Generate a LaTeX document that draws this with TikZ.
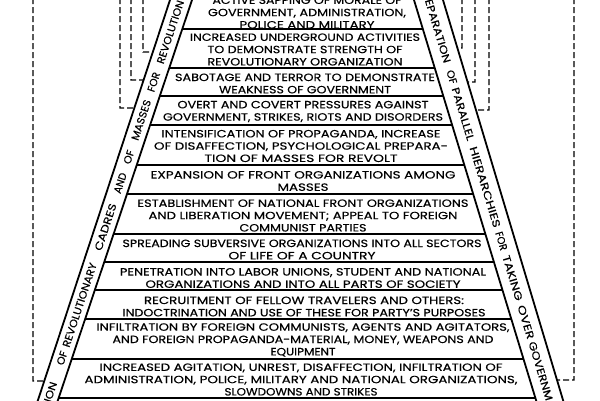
\documentclass[tikz,border=0pt]{standalone}
\usepackage{fontspec}
\usepackage{graphicx}
\setmainfont{Poppins}[FakeBold=0.4]
\usetikzlibrary{calc}
\newsavebox\fitbox
\newcommand\fitw[2]{\sbox\fitbox{#2}\pgfmathsetmacro\fitsc{#1/(\the\wd\fitbox)}\scalebox{\fitsc}[1]{\usebox\fitbox}}
\begin{document}
\begin{tikzpicture}[x=1pt,y=-1pt,
  bandline/.style={line width=1.8pt},
  sepline/.style={line width=1.2pt},
  dshline/.style={line width=1.3pt,dash pattern=on 6pt off 3pt},
  rowtxt/.style={font=\fontsize{10.5}{12.3}\selectfont,align=center,inner sep=0pt},
  lwd/.style={font=\fontsize{10.5}{12}\selectfont,inner sep=0pt,rotate=71.7},
  rwd/.style={font=\fontsize{10.5}{12}\selectfont,inner sep=0pt,rotate=-73.2}]
\useasboundingbox (0,0) rectangle (600,400);
\clip (0,0) rectangle (600,400);
\fill[white] (0,0) rectangle (600,400);
% band edges
\coordinate (LOt) at (170,0);  \coordinate (LOb) at (38,400);
\coordinate (LIt) at (192,0);  \coordinate (LIb) at (58,400);
\coordinate (RIt) at (414,0);  \coordinate (RIb) at (536,400);
\coordinate (ROt) at (443,0);  \coordinate (ROb) at (563,400);
\draw[bandline] ($(LOt)!-0.05!(LOb)$) -- ($(LOt)!1.05!(LOb)$);
\draw[bandline] ($(LIt)!-0.05!(LIb)$) -- ($(LIt)!1.05!(LIb)$);
\draw[bandline] ($(RIt)!-0.05!(RIb)$) -- ($(RIt)!1.05!(RIb)$);
\draw[bandline] ($(ROt)!-0.05!(ROb)$) -- ($(ROt)!1.05!(ROb)$);
% separators
\foreach \yy in {29,68,96,125,165,194,234,262,290,319,359,398}
  \draw[sepline] ($(LIt)!{\yy/400}!(LIb)$) -- ($(RIt)!{\yy/400}!(RIb)$);
% rows
\node[rowtxt] (r1) at (307,12.5) {\fitw{189}{ACTIVE SAPPING OF MORALE OF}\\\fitw{198}{GOVERNMENT, ADMINISTRATION,}\\\fitw{135}{POLICE AND MILITARY}};
\node[rowtxt] (r2) at (305,49.5) {\fitw{230}{INCREASED UNDERGROUND ACTIVITIES}\\\fitw{195}{TO DEMONSTRATE STRENGTH OF}\\\fitw{195}{REVOLUTIONARY ORGANIZATION}};
\node[rowtxt] (r3) at (305,83.5) {\fitw{260}{SABOTAGE AND TERROR TO DEMONSTRATE}\\\fitw{172}{WEAKNESS OF GOVERNMENT}};
\node[rowtxt] (r4) at (303,111.5) {\fitw{251}{OVERT AND COVERT PRESSURES AGAINST}\\\fitw{280}{GOVERNMENT, STRIKES, RIOTS AND DISORDERS}};
\node[rowtxt] (r5) at (301,146) {\fitw{279}{INTENSIFICATION OF PROPAGANDA, INCREASE}\\\fitw{294}{OF DISAFFECTION, PSYCHOLOGICAL PREPARA-}\\\fitw{193}{TION OF MASSES FOR REVOLT}};
\node[rowtxt] (r6) at (303,181) {\fitw{305}{EXPANSION OF FRONT ORGANIZATIONS AMONG}\\\fitw{51}{MASSES}};
\node[rowtxt] (r7) at (303,215.5) {\fitw{331}{ESTABLISHMENT OF NATIONAL FRONT ORGANIZATIONS}\\\fitw{309}{AND LIBERATION MOVEMENT; APPEAL TO FOREIGN}\\\fitw{127}{COMMUNIST PARTIES}};
\node[rowtxt] (r8) at (302,249.5) {\fitw{359}{SPREADING SUBVERSIVE ORGANIZATIONS INTO ALL SECTORS}\\\fitw{147}{OF LIFE OF A COUNTRY}};
\node[rowtxt] (r9) at (303,278) {\fitw{366}{PENETRATION INTO LABOR UNIONS, STUDENT AND NATIONAL}\\\fitw{315}{ORGANIZATIONS AND INTO ALL PARTS OF SOCIETY}};
\node[rowtxt] (r10) at (304,306.5) {\fitw{320}{RECRUITMENT OF FELLOW TRAVELERS AND OTHERS:}\\\fitw{363}{INDOCTRINATION AND USE OF THESE FOR PARTY'S PURPOSES}};
\node[rowtxt] (r11) at (303,340) {\fitw{413}{INFILTRATION BY FOREIGN COMMUNISTS, AGENTS AND AGITATORS,}\\\fitw{381}{AND FOREIGN PROPAGANDA-MATERIAL, MONEY, WEAPONS AND}\\\fitw{65}{EQUIPMENT}};
\node[rowtxt] (r12) at (301,379.5) {\fitw{403}{INCREASED AGITATION, UNREST, DISAFFECTION, INFILTRATION OF}\\\fitw{433}{ADMINISTRATION, POLICE, MILITARY  AND NATIONAL ORGANIZATIONS,}\\\fitw{153}{SLOWDOWNS AND STRIKES}};
% left band words (bottom to top)
\node[lwd] (lw1) at (49.5,395) {\fitw{27}{TION}};
\node[lwd] (lw2) at (62,358) {\fitw{14}{OF}};
\node[lwd] (lw3) at (79.6,305) {\fitw{88}{REVOLUTIONARY}};
\node[lwd] (lw4) at (105.5,227) {\fitw{49}{CADRES}};
\node[lwd] (lw5) at (120.2,183) {\fitw{21}{AND}};
\node[lwd] (lw6) at (128.8,157) {\fitw{14}{OF}};
\node[lwd] (lw7) at (141.1,120) {\fitw{42}{MASSES}};
\node[lwd] (lw8) at (153.7,82) {\fitw{20}{FOR}};
\node[lwd] (lw9) at (170.4,32) {\fitw{66}{REVOLUTION}};
% right band words (top to bottom)
\node[rwd] (rw1) at (437.9,31) {\fitw{66}{EPARATION}};
\node[rwd] (rw2) at (451.8,77) {\fitw{14}{OF}};
\node[rwd] (rw3) at (463,114) {\fitw{55}{PARALLEL}};
\node[rwd] (rw4) at (485.1,187) {\fitw{84}{HIERARCHIES}};
\node[rwd] (rw5) at (501.4,241) {\fitw{19}{FOR}};
\node[rwd] (rw6) at (512.6,278) {\fitw{47}{TAKING}};
\node[rwd] (rw7) at (525.9,322) {\fitw{35}{OVER}};
\node[rwd] (rw8) at (540.7,371) {\fitw{61}{GOVERNM}};
% dashed connectors
\coordinate (dl1) at ($(LOt)!{381/400}!(LOb)$);
\coordinate (dl2) at ($(LOt)!{108/400}!(LOb)$);
\coordinate (dl3) at ($(LOt)!{80/400}!(LOb)$);
\coordinate (dl4) at ($(LOt)!{52/400}!(LOb)$);
\coordinate (dr1) at ($(ROt)!{48/400}!(ROb)$);
\coordinate (dr2) at ($(ROt)!{82/400}!(ROb)$);
\coordinate (dr3) at ($(ROt)!{110/400}!(ROb)$);
\coordinate (dr4) at ($(ROt)!{380/400}!(ROb)$);
\draw[dshline] (33,-2) -- (33,381) -- (dl1);
\draw[dshline] (120,-2) -- (120,108) -- (dl2);
\draw[dshline] (131,-2) -- (131,80) -- (dl3);
\draw[dshline] (143,-2) -- (143,52) -- (dl4);
\draw[dshline] (462,-2) -- (462,48) -- (dr1);
\draw[dshline] (475,-2) -- (475,82) -- (dr2);
\draw[dshline] (489,-2) -- (489,110) -- (dr3);
\draw[dshline] (574,-2) -- (574,380) -- (dr4);
\end{tikzpicture}
\end{document}
